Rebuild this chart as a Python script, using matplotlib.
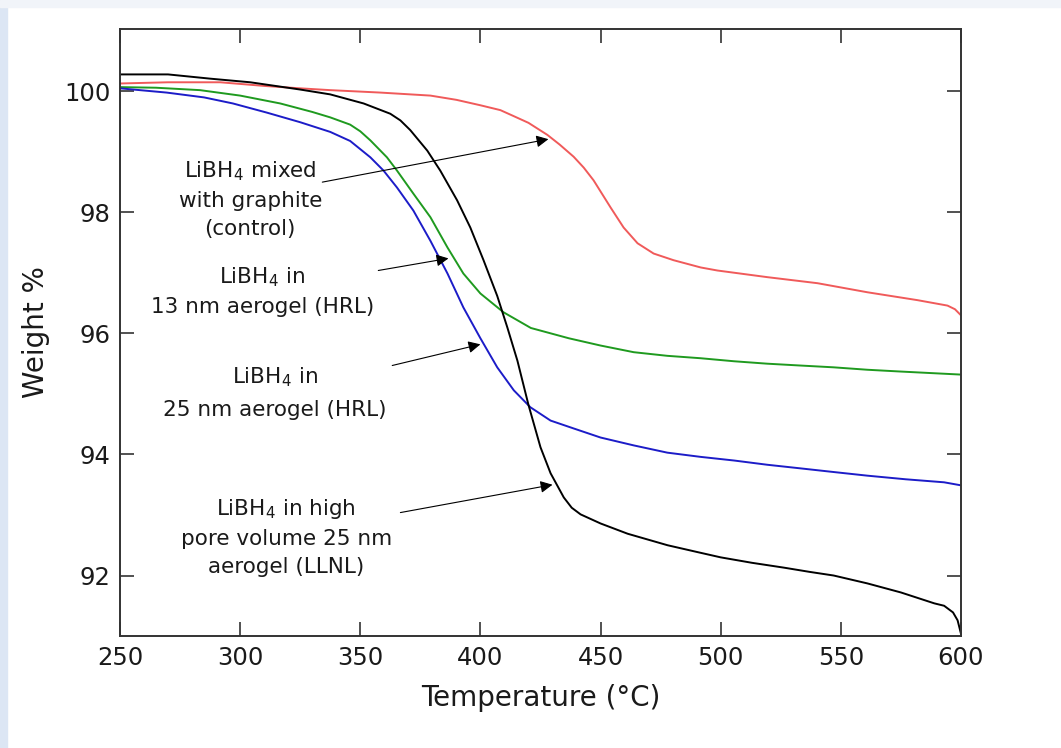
import matplotlib.pyplot as plt
from matplotlib.patches import Rectangle

# temperature (C) / weight %
llnl_t = [250, 270, 287.5, 304.2, 325, 337.5, 351.4, 362.5, 366.7, 370.8, 377.9, 383.3, 390.3,
          395.8, 401.3, 407, 411.2, 415.4, 420, 425, 429.2, 434.7, 438, 441.7, 450, 461.3, 477.9,
          490, 500, 513, 526.3, 537, 547, 561, 575, 588.9, 593, 596.7, 598.6, 600]
llnl_w = [100.28, 100.28, 100.21, 100.15, 100.03, 99.95, 99.80, 99.63, 99.52, 99.36, 99.02, 98.69,
          98.20, 97.75, 97.21, 96.62, 96.10, 95.55, 94.82, 94.12, 93.69, 93.29, 93.12, 93.01, 92.86,
          92.69, 92.50, 92.39, 92.30, 92.21, 92.13, 92.06, 92.00, 91.87, 91.72, 91.54, 91.50, 91.39,
          91.26, 91.04]

ctrl_t = [250, 270, 291.7, 310, 325, 337.5, 358.3, 379.2, 390, 400, 408.3, 413.9, 420, 427.9,
          433, 438.8, 443, 447.1, 454.2, 459.6, 465.4, 472.1, 480.4, 491.7, 498.6, 519.4, 540.3,
          561.1, 581.9, 594.4, 597.5, 600]
ctrl_w = [100.13, 100.15, 100.15, 100.09, 100.05, 100.02, 99.98, 99.93, 99.86, 99.77, 99.69, 99.59,
          99.48, 99.28, 99.12, 98.92, 98.74, 98.53, 98.08, 97.75, 97.49, 97.32, 97.21, 97.09, 97.04,
          96.93, 96.83, 96.68, 96.55, 96.46, 96.40, 96.30]

hrl13_t = [250, 265, 283.3, 300, 316.7, 330, 337.5, 345.8, 350, 354.2, 361.1, 365.3, 372.1,
           379.2, 386.3, 392.9, 400, 409.6, 421, 436.8, 450, 463.8, 477.8, 491.7, 505.6, 519.4,
           533, 547, 561, 575, 590, 600]
hrl13_w = [100.07, 100.06, 100.02, 99.93, 99.80, 99.66, 99.57, 99.45, 99.34, 99.19, 98.91, 98.69,
           98.31, 97.92, 97.42, 96.99, 96.66, 96.35, 96.09, 95.92, 95.80, 95.69, 95.63, 95.59, 95.54,
           95.50, 95.47, 95.44, 95.40, 95.37, 95.34, 95.32]

hrl25_t = [250, 269.4, 285, 297, 311, 325, 337.5, 345.8, 354.2, 359.7, 365.3, 372.1, 379.2,
           386.3, 392.9, 400, 407, 413.9, 420.8, 429.2, 438.8, 450, 463.8, 477.8, 491.7, 505.6,
           519.4, 533.3, 547, 561, 577, 593, 600]
hrl25_w = [100.05, 99.98, 99.90, 99.80, 99.65, 99.49, 99.33, 99.18, 98.91, 98.69, 98.41, 98.03,
           97.53, 96.99, 96.43, 95.92, 95.44, 95.06, 94.78, 94.56, 94.43, 94.28, 94.15, 94.03, 93.96,
           93.90, 93.83, 93.77, 93.71, 93.65, 93.59, 93.54, 93.49]

x_ticks = [250, 300, 350, 400, 450, 500, 550, 600]
y_ticks = [92, 94, 96, 98, 100]

fig = plt.figure(figsize=(10.61, 7.48), dpi=100)
fig.patches.append(Rectangle((0, 0), 0.007, 1, transform=fig.transFigure,
                             color='#dce6f4', zorder=-1))
fig.patches.append(Rectangle((0, 0.99), 1, 0.01, transform=fig.transFigure,
                             color='#f1f4f9', zorder=-1))
ax = fig.add_axes([0.1131, 0.1497, 0.7926, 0.8115])

lw = 1.4
ax.plot(ctrl_t, ctrl_w, color='#f05a5a', lw=lw)
ax.plot(hrl13_t, hrl13_w, color='#1f9a1f', lw=lw)
ax.plot(hrl25_t, hrl25_w, color='#1c1cc8', lw=lw)
ax.plot(llnl_t, llnl_w, color='black', lw=lw)

ax.set_xlim(250, 600)
ax.set_ylim(91.0, 101.03)
ax.set_xticks(x_ticks)
ax.set_yticks(y_ticks)
ax.tick_params(direction='in', length=10, width=1.2, top=True, right=True,
               labelsize=17.5, pad=7, color='#333333', labelcolor='#1a1a1a')
for s in ax.spines.values():
    s.set_color('#333333')
    s.set_linewidth(1.4)

ax.set_xlabel('Temperature (°C)', fontsize=20, labelpad=10, color='#1a1a1a')
ax.set_ylabel('Weight %', fontsize=20, labelpad=10, color='#1a1a1a')

fs = 15.5
arrow = dict(arrowstyle='-|>', color='black', lw=0.8, mutation_scale=18,
             shrinkA=0, shrinkB=0)
ax.text(304.2, 98.22, 'LiBH$_4$ mixed\nwith graphite\n(control)', ha='center', va='center',
        fontsize=fs, linespacing=1.5, color='#1a1a1a')
ax.annotate('', xy=(428.3, 99.21), xytext=(334.2, 98.50), arrowprops=arrow)

ax.text(309.2, 96.70, 'LiBH$_4$ in\n13 nm aerogel (HRL)', ha='center', va='center',
        fontsize=fs, linespacing=1.5, color='#1a1a1a')
ax.annotate('', xy=(386.7, 97.24), xytext=(357.5, 97.04), arrowprops=arrow)

ax.text(314.6, 95.02, 'LiBH$_4$ in\n25 nm aerogel (HRL)', ha='center', va='center',
        fontsize=fs, linespacing=1.65, color='#1a1a1a')
ax.annotate('', xy=(400, 95.82), xytext=(363.3, 95.47), arrowprops=arrow)

ax.text(319.2, 92.64, 'LiBH$_4$ in high\npore volume 25 nm\naerogel (LLNL)', ha='center',
        va='center', fontsize=fs, linespacing=1.5, color='#1a1a1a')
ax.annotate('', xy=(430, 93.50), xytext=(366.7, 93.04), arrowprops=arrow)

fig.savefig('out.png', dpi=100)
